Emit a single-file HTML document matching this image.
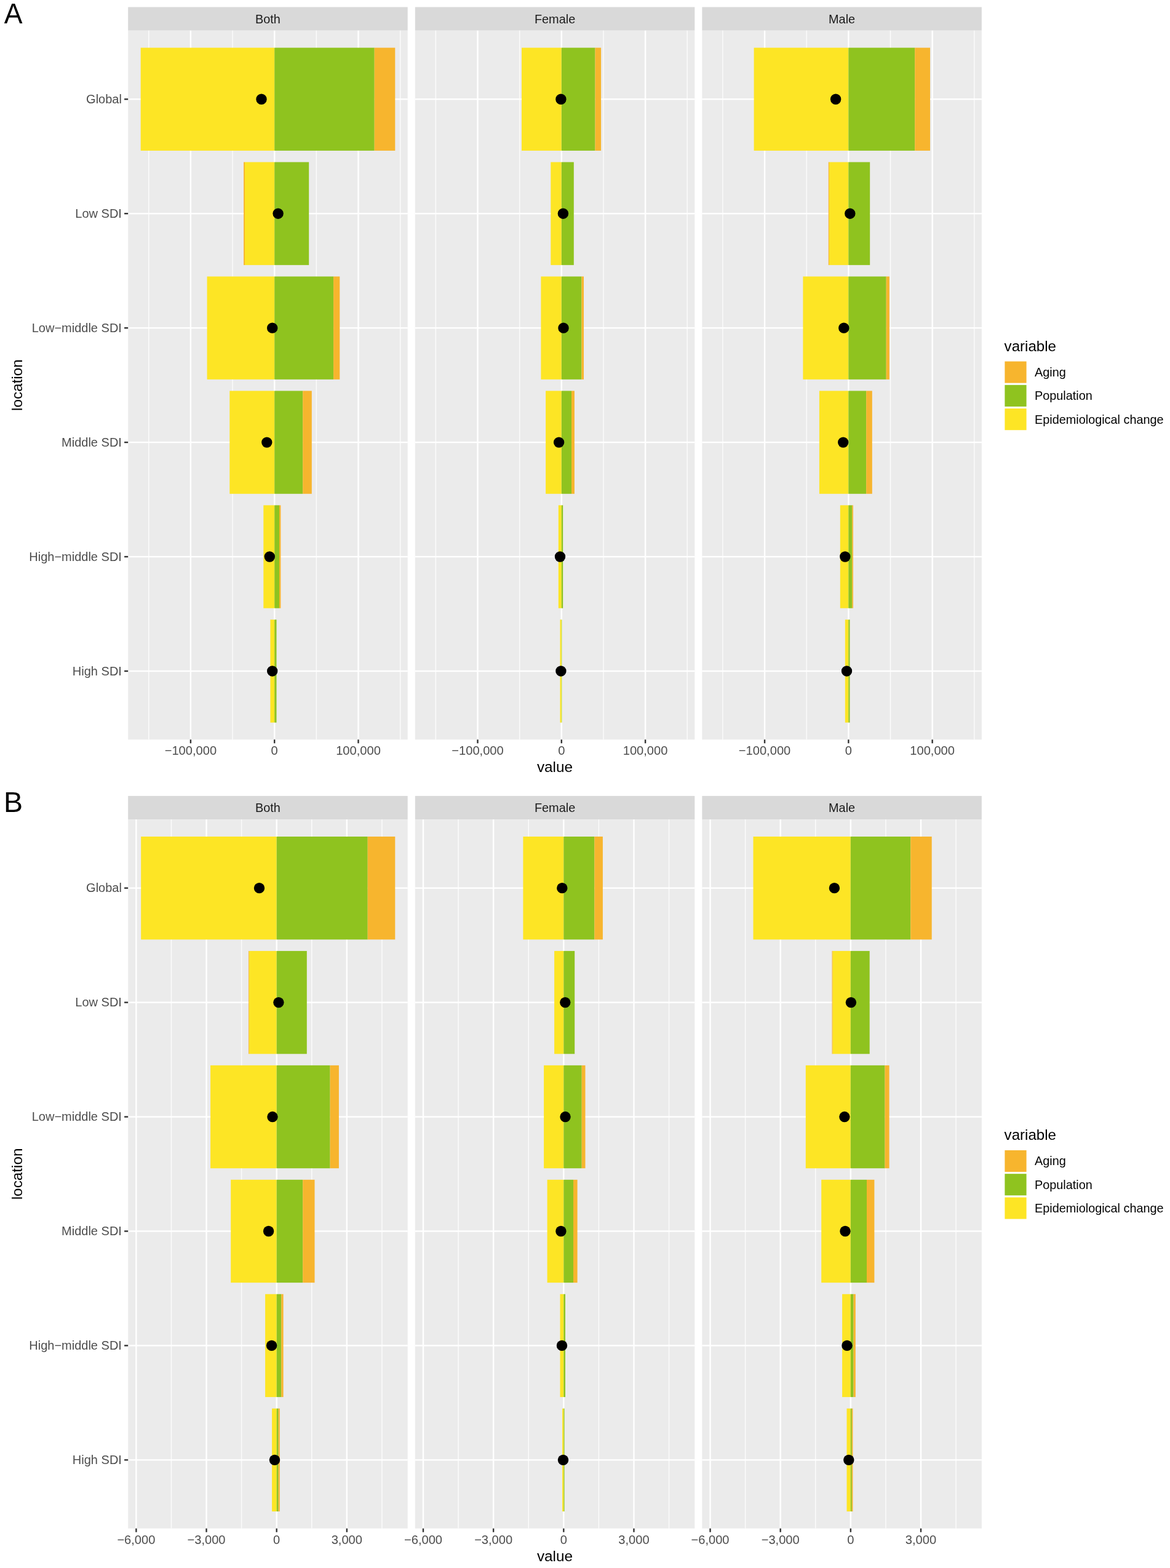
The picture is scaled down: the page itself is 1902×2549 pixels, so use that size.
<!DOCTYPE html>
<html><head><meta charset="utf-8"><title>Decomposition analysis</title>
<style>html,body{margin:0;padding:0;background:#fff;}body{width:1902px;height:2549px;overflow:hidden;}svg{display:block;}text{font-family:'Liberation Sans', Arial, Helvetica, sans-serif;}</style>
</head><body>
<svg width="1902" height="2549" viewBox="0 0 1902 2549">
<rect x="0" y="0" width="1902" height="2549" fill="#fff"/>
<g id="plotA">
<text transform="translate(6.8 37.9) scale(0.96 1)" font-size="46.5" fill="#000">A</text>
<rect x="208.2" y="11.5" width="454.5" height="38.2" fill="#D9D9D9"/>
<text x="435.45" y="37.5" font-size="19.9" fill="#1A1A1A" text-anchor="middle">Both</text>
<rect x="208.2" y="49.7" width="454.5" height="1152.6" fill="#EBEBEB"/>
<rect x="241.05" y="49.7" width="1.4" height="1152.6" fill="#FCFCFC"/>
<rect x="377.35" y="49.7" width="1.4" height="1152.6" fill="#FCFCFC"/>
<rect x="513.65" y="49.7" width="1.4" height="1152.6" fill="#FCFCFC"/>
<rect x="649.95" y="49.7" width="1.4" height="1152.6" fill="#FCFCFC"/>
<rect x="308.7" y="49.7" width="2.4" height="1152.6" fill="#fff"/>
<rect x="445" y="49.7" width="2.4" height="1152.6" fill="#fff"/>
<rect x="581.3" y="49.7" width="2.4" height="1152.6" fill="#fff"/>
<rect x="208.2" y="160.06" width="454.5" height="2.4" fill="#fff"/>
<rect x="208.2" y="346" width="454.5" height="2.4" fill="#fff"/>
<rect x="208.2" y="531.94" width="454.5" height="2.4" fill="#fff"/>
<rect x="208.2" y="717.88" width="454.5" height="2.4" fill="#fff"/>
<rect x="208.2" y="903.82" width="454.5" height="2.4" fill="#fff"/>
<rect x="208.2" y="1089.76" width="454.5" height="2.4" fill="#fff"/>
<rect x="228.7" y="77.59" width="217.5" height="167.35" fill="#FDE525"/>
<rect x="446.2" y="77.59" width="162.5" height="167.35" fill="#8FC31F"/>
<rect x="608.7" y="77.59" width="33.6" height="167.35" fill="#F7B52E"/>
<rect x="396.1" y="263.53" width="1.9" height="167.35" fill="#F7B52E"/>
<rect x="398" y="263.53" width="48.2" height="167.35" fill="#FDE525"/>
<rect x="446.2" y="263.53" width="56" height="167.35" fill="#8FC31F"/>
<rect x="336.6" y="449.47" width="109.6" height="167.35" fill="#FDE525"/>
<rect x="446.2" y="449.47" width="95.9" height="167.35" fill="#8FC31F"/>
<rect x="542.1" y="449.47" width="10.2" height="167.35" fill="#F7B52E"/>
<rect x="373.3" y="635.41" width="72.9" height="167.35" fill="#FDE525"/>
<rect x="446.2" y="635.41" width="46" height="167.35" fill="#8FC31F"/>
<rect x="492.2" y="635.41" width="14.6" height="167.35" fill="#F7B52E"/>
<rect x="428.3" y="821.35" width="17.9" height="167.35" fill="#FDE525"/>
<rect x="446.2" y="821.35" width="7.8" height="167.35" fill="#8FC31F"/>
<rect x="454" y="821.35" width="2.4" height="167.35" fill="#F7B52E"/>
<rect x="439.4" y="1007.29" width="6.8" height="167.35" fill="#FDE525"/>
<rect x="446.2" y="1007.29" width="3.3" height="167.35" fill="#8FC31F"/>
<circle cx="425" cy="161.26" r="8.7" fill="#000"/>
<circle cx="452.1" cy="347.2" r="8.7" fill="#000"/>
<circle cx="442.7" cy="533.14" r="8.7" fill="#000"/>
<circle cx="433.8" cy="719.08" r="8.7" fill="#000"/>
<circle cx="438.3" cy="905.02" r="8.7" fill="#000"/>
<circle cx="442.7" cy="1090.96" r="8.7" fill="#000"/>
<rect x="308.7" y="1202.3" width="2.4" height="6" fill="#333"/>
<text x="309.9" y="1227.4" font-size="20.1" fill="#4D4D4D" text-anchor="middle">−100,000</text>
<rect x="445" y="1202.3" width="2.4" height="6" fill="#333"/>
<text x="446.2" y="1227.4" font-size="20.1" fill="#4D4D4D" text-anchor="middle">0</text>
<rect x="581.3" y="1202.3" width="2.4" height="6" fill="#333"/>
<text x="582.5" y="1227.4" font-size="20.1" fill="#4D4D4D" text-anchor="middle">100,000</text>
<rect x="674.8" y="11.5" width="454.5" height="38.2" fill="#D9D9D9"/>
<text x="902.05" y="37.5" font-size="19.9" fill="#1A1A1A" text-anchor="middle">Female</text>
<rect x="674.8" y="49.7" width="454.5" height="1152.6" fill="#EBEBEB"/>
<rect x="707.65" y="49.7" width="1.4" height="1152.6" fill="#FCFCFC"/>
<rect x="843.95" y="49.7" width="1.4" height="1152.6" fill="#FCFCFC"/>
<rect x="980.25" y="49.7" width="1.4" height="1152.6" fill="#FCFCFC"/>
<rect x="1116.55" y="49.7" width="1.4" height="1152.6" fill="#FCFCFC"/>
<rect x="775.3" y="49.7" width="2.4" height="1152.6" fill="#fff"/>
<rect x="911.6" y="49.7" width="2.4" height="1152.6" fill="#fff"/>
<rect x="1047.9" y="49.7" width="2.4" height="1152.6" fill="#fff"/>
<rect x="674.8" y="160.06" width="454.5" height="2.4" fill="#fff"/>
<rect x="674.8" y="346" width="454.5" height="2.4" fill="#fff"/>
<rect x="674.8" y="531.94" width="454.5" height="2.4" fill="#fff"/>
<rect x="674.8" y="717.88" width="454.5" height="2.4" fill="#fff"/>
<rect x="674.8" y="903.82" width="454.5" height="2.4" fill="#fff"/>
<rect x="674.8" y="1089.76" width="454.5" height="2.4" fill="#fff"/>
<rect x="848" y="77.59" width="64.8" height="167.35" fill="#FDE525"/>
<rect x="912.8" y="77.59" width="54.7" height="167.35" fill="#8FC31F"/>
<rect x="967.5" y="77.59" width="9.6" height="167.35" fill="#F7B52E"/>
<rect x="895.3" y="263.53" width="17.5" height="167.35" fill="#FDE525"/>
<rect x="912.8" y="263.53" width="20" height="167.35" fill="#8FC31F"/>
<rect x="879.4" y="449.47" width="33.4" height="167.35" fill="#FDE525"/>
<rect x="912.8" y="449.47" width="32.7" height="167.35" fill="#8FC31F"/>
<rect x="945.5" y="449.47" width="3.5" height="167.35" fill="#F7B52E"/>
<rect x="887.1" y="635.41" width="25.7" height="167.35" fill="#FDE525"/>
<rect x="912.8" y="635.41" width="16.2" height="167.35" fill="#8FC31F"/>
<rect x="929" y="635.41" width="4.9" height="167.35" fill="#F7B52E"/>
<rect x="907.8" y="821.35" width="5" height="167.35" fill="#FDE525"/>
<rect x="912.8" y="821.35" width="2.4" height="167.35" fill="#8FC31F"/>
<rect x="910.5" y="1007.29" width="2.3" height="167.35" fill="#FDE525"/>
<rect x="912.8" y="1007.29" width="0.6" height="167.35" fill="#8FC31F"/>
<circle cx="911.9" cy="161.26" r="8.7" fill="#000"/>
<circle cx="915.4" cy="347.2" r="8.7" fill="#000"/>
<circle cx="916" cy="533.14" r="8.7" fill="#000"/>
<circle cx="908.6" cy="719.08" r="8.7" fill="#000"/>
<circle cx="910.5" cy="905.02" r="8.7" fill="#000"/>
<circle cx="911.9" cy="1090.96" r="8.7" fill="#000"/>
<rect x="775.3" y="1202.3" width="2.4" height="6" fill="#333"/>
<text x="776.5" y="1227.4" font-size="20.1" fill="#4D4D4D" text-anchor="middle">−100,000</text>
<rect x="911.6" y="1202.3" width="2.4" height="6" fill="#333"/>
<text x="912.8" y="1227.4" font-size="20.1" fill="#4D4D4D" text-anchor="middle">0</text>
<rect x="1047.9" y="1202.3" width="2.4" height="6" fill="#333"/>
<text x="1049.1" y="1227.4" font-size="20.1" fill="#4D4D4D" text-anchor="middle">100,000</text>
<rect x="1141.35" y="11.5" width="454.5" height="38.2" fill="#D9D9D9"/>
<text x="1368.6" y="37.5" font-size="19.9" fill="#1A1A1A" text-anchor="middle">Male</text>
<rect x="1141.35" y="49.7" width="454.5" height="1152.6" fill="#EBEBEB"/>
<rect x="1174.2" y="49.7" width="1.4" height="1152.6" fill="#FCFCFC"/>
<rect x="1310.5" y="49.7" width="1.4" height="1152.6" fill="#FCFCFC"/>
<rect x="1446.8" y="49.7" width="1.4" height="1152.6" fill="#FCFCFC"/>
<rect x="1583.1" y="49.7" width="1.4" height="1152.6" fill="#FCFCFC"/>
<rect x="1241.85" y="49.7" width="2.4" height="1152.6" fill="#fff"/>
<rect x="1378.15" y="49.7" width="2.4" height="1152.6" fill="#fff"/>
<rect x="1514.45" y="49.7" width="2.4" height="1152.6" fill="#fff"/>
<rect x="1141.35" y="160.06" width="454.5" height="2.4" fill="#fff"/>
<rect x="1141.35" y="346" width="454.5" height="2.4" fill="#fff"/>
<rect x="1141.35" y="531.94" width="454.5" height="2.4" fill="#fff"/>
<rect x="1141.35" y="717.88" width="454.5" height="2.4" fill="#fff"/>
<rect x="1141.35" y="903.82" width="454.5" height="2.4" fill="#fff"/>
<rect x="1141.35" y="1089.76" width="454.5" height="2.4" fill="#fff"/>
<rect x="1225.6" y="77.59" width="153.7" height="167.35" fill="#FDE525"/>
<rect x="1379.3" y="77.59" width="107.9" height="167.35" fill="#8FC31F"/>
<rect x="1487.2" y="77.59" width="24.8" height="167.35" fill="#F7B52E"/>
<rect x="1346.8" y="263.53" width="1.3" height="167.35" fill="#F7B52E"/>
<rect x="1348.1" y="263.53" width="31.2" height="167.35" fill="#FDE525"/>
<rect x="1379.3" y="263.53" width="34.9" height="167.35" fill="#8FC31F"/>
<rect x="1305.4" y="449.47" width="73.9" height="167.35" fill="#FDE525"/>
<rect x="1379.3" y="449.47" width="61.4" height="167.35" fill="#8FC31F"/>
<rect x="1440.7" y="449.47" width="5.2" height="167.35" fill="#F7B52E"/>
<rect x="1331.9" y="635.41" width="47.4" height="167.35" fill="#FDE525"/>
<rect x="1379.3" y="635.41" width="28.9" height="167.35" fill="#8FC31F"/>
<rect x="1408.2" y="635.41" width="9.6" height="167.35" fill="#F7B52E"/>
<rect x="1365.8" y="821.35" width="13.5" height="167.35" fill="#FDE525"/>
<rect x="1379.3" y="821.35" width="6" height="167.35" fill="#8FC31F"/>
<rect x="1385.3" y="821.35" width="1.7" height="167.35" fill="#F7B52E"/>
<rect x="1373.8" y="1007.29" width="5.5" height="167.35" fill="#FDE525"/>
<rect x="1379.3" y="1007.29" width="2.2" height="167.35" fill="#8FC31F"/>
<circle cx="1358.6" cy="161.26" r="8.7" fill="#000"/>
<circle cx="1381.8" cy="347.2" r="8.7" fill="#000"/>
<circle cx="1371.8" cy="533.14" r="8.7" fill="#000"/>
<circle cx="1370.7" cy="719.08" r="8.7" fill="#000"/>
<circle cx="1373.8" cy="905.02" r="8.7" fill="#000"/>
<circle cx="1376.5" cy="1090.96" r="8.7" fill="#000"/>
<rect x="1241.85" y="1202.3" width="2.4" height="6" fill="#333"/>
<text x="1243.05" y="1227.4" font-size="20.1" fill="#4D4D4D" text-anchor="middle">−100,000</text>
<rect x="1378.15" y="1202.3" width="2.4" height="6" fill="#333"/>
<text x="1379.35" y="1227.4" font-size="20.1" fill="#4D4D4D" text-anchor="middle">0</text>
<rect x="1514.45" y="1202.3" width="2.4" height="6" fill="#333"/>
<text x="1515.65" y="1227.4" font-size="20.1" fill="#4D4D4D" text-anchor="middle">100,000</text>
<rect x="202.1" y="160.06" width="6.1" height="2.4" fill="#333"/>
<text x="197.9" y="168.06" font-size="20.0" fill="#4D4D4D" text-anchor="end">Global</text>
<rect x="202.1" y="346" width="6.1" height="2.4" fill="#333"/>
<text x="197.9" y="354" font-size="20.0" fill="#4D4D4D" text-anchor="end">Low SDI</text>
<rect x="202.1" y="531.94" width="6.1" height="2.4" fill="#333"/>
<text x="197.9" y="539.94" font-size="20.0" fill="#4D4D4D" text-anchor="end">Low−middle SDI</text>
<rect x="202.1" y="717.88" width="6.1" height="2.4" fill="#333"/>
<text x="197.9" y="725.88" font-size="20.0" fill="#4D4D4D" text-anchor="end">Middle SDI</text>
<rect x="202.1" y="903.82" width="6.1" height="2.4" fill="#333"/>
<text x="197.9" y="911.82" font-size="20.0" fill="#4D4D4D" text-anchor="end">High−middle SDI</text>
<rect x="202.1" y="1089.76" width="6.1" height="2.4" fill="#333"/>
<text x="197.9" y="1097.76" font-size="20.0" fill="#4D4D4D" text-anchor="end">High SDI</text>
<text x="902" y="1255.1" font-size="24.3" fill="#000" text-anchor="middle">value</text>
<text transform="translate(36.0 626) rotate(-90)" font-size="24.3" fill="#000" text-anchor="middle">location</text>
<text x="1632.6" y="570.9" font-size="24.1" fill="#000">variable</text>
<rect x="1633.4" y="587.5" width="35.2" height="35.1" fill="#F7B52E"/>
<text x="1682.0" y="612" font-size="19.85" fill="#000">Aging</text>
<rect x="1633.4" y="625.8" width="35.2" height="35.1" fill="#8FC31F"/>
<text x="1682.0" y="650.3" font-size="19.85" fill="#000">Population</text>
<rect x="1633.4" y="664.1" width="35.2" height="35.1" fill="#FDE525"/>
<text x="1682.0" y="688.6" font-size="19.85" fill="#000">Epidemiological change</text>
</g>
<g id="plotB">
<text transform="translate(6 1319.9) scale(1.0 1)" font-size="46.5" fill="#000">B</text>
<rect x="208.2" y="1293.9" width="454.5" height="38.2" fill="#D9D9D9"/>
<text x="435.45" y="1319.9" font-size="19.9" fill="#1A1A1A" text-anchor="middle">Both</text>
<rect x="208.2" y="1332.1" width="454.5" height="1152.6" fill="#EBEBEB"/>
<rect x="277.78" y="1332.1" width="1.4" height="1152.6" fill="#FCFCFC"/>
<rect x="391.93" y="1332.1" width="1.4" height="1152.6" fill="#FCFCFC"/>
<rect x="506.07" y="1332.1" width="1.4" height="1152.6" fill="#FCFCFC"/>
<rect x="620.22" y="1332.1" width="1.4" height="1152.6" fill="#FCFCFC"/>
<rect x="220.2" y="1332.1" width="2.4" height="1152.6" fill="#fff"/>
<rect x="334.35" y="1332.1" width="2.4" height="1152.6" fill="#fff"/>
<rect x="448.5" y="1332.1" width="2.4" height="1152.6" fill="#fff"/>
<rect x="562.65" y="1332.1" width="2.4" height="1152.6" fill="#fff"/>
<rect x="208.2" y="1442.46" width="454.5" height="2.4" fill="#fff"/>
<rect x="208.2" y="1628.4" width="454.5" height="2.4" fill="#fff"/>
<rect x="208.2" y="1814.34" width="454.5" height="2.4" fill="#fff"/>
<rect x="208.2" y="2000.28" width="454.5" height="2.4" fill="#fff"/>
<rect x="208.2" y="2186.22" width="454.5" height="2.4" fill="#fff"/>
<rect x="208.2" y="2372.16" width="454.5" height="2.4" fill="#fff"/>
<rect x="229.2" y="1359.99" width="220.5" height="167.35" fill="#FDE525"/>
<rect x="449.7" y="1359.99" width="148" height="167.35" fill="#8FC31F"/>
<rect x="597.7" y="1359.99" width="44.6" height="167.35" fill="#F7B52E"/>
<rect x="404.1" y="1545.93" width="1.1" height="167.35" fill="#F7B52E"/>
<rect x="405.2" y="1545.93" width="44.5" height="167.35" fill="#FDE525"/>
<rect x="449.7" y="1545.93" width="49.1" height="167.35" fill="#8FC31F"/>
<rect x="342.1" y="1731.87" width="107.6" height="167.35" fill="#FDE525"/>
<rect x="449.7" y="1731.87" width="86.9" height="167.35" fill="#8FC31F"/>
<rect x="536.6" y="1731.87" width="14.3" height="167.35" fill="#F7B52E"/>
<rect x="375.2" y="1917.81" width="74.5" height="167.35" fill="#FDE525"/>
<rect x="449.7" y="1917.81" width="42.5" height="167.35" fill="#8FC31F"/>
<rect x="492.2" y="1917.81" width="19.3" height="167.35" fill="#F7B52E"/>
<rect x="431.1" y="2103.75" width="18.6" height="167.35" fill="#FDE525"/>
<rect x="449.7" y="2103.75" width="7.6" height="167.35" fill="#8FC31F"/>
<rect x="457.3" y="2103.75" width="3.3" height="167.35" fill="#F7B52E"/>
<rect x="442.1" y="2289.69" width="7.6" height="167.35" fill="#FDE525"/>
<rect x="449.7" y="2289.69" width="2.9" height="167.35" fill="#8FC31F"/>
<rect x="452.6" y="2289.69" width="2.2" height="167.35" fill="#F7B52E"/>
<circle cx="421.5" cy="1443.66" r="8.7" fill="#000"/>
<circle cx="452.9" cy="1629.6" r="8.7" fill="#000"/>
<circle cx="443" cy="1815.54" r="8.7" fill="#000"/>
<circle cx="436.6" cy="2001.48" r="8.7" fill="#000"/>
<circle cx="441.6" cy="2187.42" r="8.7" fill="#000"/>
<circle cx="446.5" cy="2373.36" r="8.7" fill="#000"/>
<rect x="220.2" y="2484.7" width="2.4" height="6" fill="#333"/>
<text x="221.4" y="2509.8" font-size="20.1" fill="#4D4D4D" text-anchor="middle">−6,000</text>
<rect x="334.35" y="2484.7" width="2.4" height="6" fill="#333"/>
<text x="335.55" y="2509.8" font-size="20.1" fill="#4D4D4D" text-anchor="middle">−3,000</text>
<rect x="448.5" y="2484.7" width="2.4" height="6" fill="#333"/>
<text x="449.7" y="2509.8" font-size="20.1" fill="#4D4D4D" text-anchor="middle">0</text>
<rect x="562.65" y="2484.7" width="2.4" height="6" fill="#333"/>
<text x="563.85" y="2509.8" font-size="20.1" fill="#4D4D4D" text-anchor="middle">3,000</text>
<rect x="674.8" y="1293.9" width="454.5" height="38.2" fill="#D9D9D9"/>
<text x="902.05" y="1319.9" font-size="19.9" fill="#1A1A1A" text-anchor="middle">Female</text>
<rect x="674.8" y="1332.1" width="454.5" height="1152.6" fill="#EBEBEB"/>
<rect x="744.37" y="1332.1" width="1.4" height="1152.6" fill="#FCFCFC"/>
<rect x="858.52" y="1332.1" width="1.4" height="1152.6" fill="#FCFCFC"/>
<rect x="972.67" y="1332.1" width="1.4" height="1152.6" fill="#FCFCFC"/>
<rect x="1086.82" y="1332.1" width="1.4" height="1152.6" fill="#FCFCFC"/>
<rect x="686.8" y="1332.1" width="2.4" height="1152.6" fill="#fff"/>
<rect x="800.95" y="1332.1" width="2.4" height="1152.6" fill="#fff"/>
<rect x="915.1" y="1332.1" width="2.4" height="1152.6" fill="#fff"/>
<rect x="1029.25" y="1332.1" width="2.4" height="1152.6" fill="#fff"/>
<rect x="674.8" y="1442.46" width="454.5" height="2.4" fill="#fff"/>
<rect x="674.8" y="1628.4" width="454.5" height="2.4" fill="#fff"/>
<rect x="674.8" y="1814.34" width="454.5" height="2.4" fill="#fff"/>
<rect x="674.8" y="2000.28" width="454.5" height="2.4" fill="#fff"/>
<rect x="674.8" y="2186.22" width="454.5" height="2.4" fill="#fff"/>
<rect x="674.8" y="2372.16" width="454.5" height="2.4" fill="#fff"/>
<rect x="850.4" y="1359.99" width="65.9" height="167.35" fill="#FDE525"/>
<rect x="916.3" y="1359.99" width="50.1" height="167.35" fill="#8FC31F"/>
<rect x="966.4" y="1359.99" width="13.5" height="167.35" fill="#F7B52E"/>
<rect x="901.1" y="1545.93" width="15.2" height="167.35" fill="#FDE525"/>
<rect x="916.3" y="1545.93" width="17.9" height="167.35" fill="#8FC31F"/>
<rect x="884.1" y="1731.87" width="32.2" height="167.35" fill="#FDE525"/>
<rect x="916.3" y="1731.87" width="29.4" height="167.35" fill="#8FC31F"/>
<rect x="945.7" y="1731.87" width="5.8" height="167.35" fill="#F7B52E"/>
<rect x="889.6" y="1917.81" width="26.7" height="167.35" fill="#FDE525"/>
<rect x="916.3" y="1917.81" width="15.7" height="167.35" fill="#8FC31F"/>
<rect x="932" y="1917.81" width="6.6" height="167.35" fill="#F7B52E"/>
<rect x="910.5" y="2103.75" width="5.8" height="167.35" fill="#FDE525"/>
<rect x="916.3" y="2103.75" width="2.7" height="167.35" fill="#8FC31F"/>
<rect x="914.1" y="2289.69" width="2.2" height="167.35" fill="#FDE525"/>
<rect x="916.3" y="2289.69" width="1.3" height="167.35" fill="#8FC31F"/>
<circle cx="913.8" cy="1443.66" r="8.7" fill="#000"/>
<circle cx="918.8" cy="1629.6" r="8.7" fill="#000"/>
<circle cx="919" cy="1815.54" r="8.7" fill="#000"/>
<circle cx="911.9" cy="2001.48" r="8.7" fill="#000"/>
<circle cx="913.5" cy="2187.42" r="8.7" fill="#000"/>
<circle cx="915.5" cy="2373.36" r="8.7" fill="#000"/>
<rect x="686.8" y="2484.7" width="2.4" height="6" fill="#333"/>
<text x="688" y="2509.8" font-size="20.1" fill="#4D4D4D" text-anchor="middle">−6,000</text>
<rect x="800.95" y="2484.7" width="2.4" height="6" fill="#333"/>
<text x="802.15" y="2509.8" font-size="20.1" fill="#4D4D4D" text-anchor="middle">−3,000</text>
<rect x="915.1" y="2484.7" width="2.4" height="6" fill="#333"/>
<text x="916.3" y="2509.8" font-size="20.1" fill="#4D4D4D" text-anchor="middle">0</text>
<rect x="1029.25" y="2484.7" width="2.4" height="6" fill="#333"/>
<text x="1030.45" y="2509.8" font-size="20.1" fill="#4D4D4D" text-anchor="middle">3,000</text>
<rect x="1141.35" y="1293.9" width="454.5" height="38.2" fill="#D9D9D9"/>
<text x="1368.6" y="1319.9" font-size="19.9" fill="#1A1A1A" text-anchor="middle">Male</text>
<rect x="1141.35" y="1332.1" width="454.5" height="1152.6" fill="#EBEBEB"/>
<rect x="1210.92" y="1332.1" width="1.4" height="1152.6" fill="#FCFCFC"/>
<rect x="1325.07" y="1332.1" width="1.4" height="1152.6" fill="#FCFCFC"/>
<rect x="1439.22" y="1332.1" width="1.4" height="1152.6" fill="#FCFCFC"/>
<rect x="1553.37" y="1332.1" width="1.4" height="1152.6" fill="#FCFCFC"/>
<rect x="1153.35" y="1332.1" width="2.4" height="1152.6" fill="#fff"/>
<rect x="1267.5" y="1332.1" width="2.4" height="1152.6" fill="#fff"/>
<rect x="1381.65" y="1332.1" width="2.4" height="1152.6" fill="#fff"/>
<rect x="1495.8" y="1332.1" width="2.4" height="1152.6" fill="#fff"/>
<rect x="1141.35" y="1442.46" width="454.5" height="2.4" fill="#fff"/>
<rect x="1141.35" y="1628.4" width="454.5" height="2.4" fill="#fff"/>
<rect x="1141.35" y="1814.34" width="454.5" height="2.4" fill="#fff"/>
<rect x="1141.35" y="2000.28" width="454.5" height="2.4" fill="#fff"/>
<rect x="1141.35" y="2186.22" width="454.5" height="2.4" fill="#fff"/>
<rect x="1141.35" y="2372.16" width="454.5" height="2.4" fill="#fff"/>
<rect x="1224.5" y="1359.99" width="158.3" height="167.35" fill="#FDE525"/>
<rect x="1382.8" y="1359.99" width="97.5" height="167.35" fill="#8FC31F"/>
<rect x="1480.3" y="1359.99" width="34.4" height="167.35" fill="#F7B52E"/>
<rect x="1352.5" y="1545.93" width="1.2" height="167.35" fill="#F7B52E"/>
<rect x="1353.7" y="1545.93" width="29.1" height="167.35" fill="#FDE525"/>
<rect x="1382.8" y="1545.93" width="30.9" height="167.35" fill="#8FC31F"/>
<rect x="1309.8" y="1731.87" width="73" height="167.35" fill="#FDE525"/>
<rect x="1382.8" y="1731.87" width="55.7" height="167.35" fill="#8FC31F"/>
<rect x="1438.5" y="1731.87" width="7.1" height="167.35" fill="#F7B52E"/>
<rect x="1335.2" y="1917.81" width="47.6" height="167.35" fill="#FDE525"/>
<rect x="1382.8" y="1917.81" width="26.2" height="167.35" fill="#8FC31F"/>
<rect x="1409" y="1917.81" width="12.4" height="167.35" fill="#F7B52E"/>
<rect x="1369.1" y="2103.75" width="13.7" height="167.35" fill="#FDE525"/>
<rect x="1382.8" y="2103.75" width="4.7" height="167.35" fill="#8FC31F"/>
<rect x="1387.5" y="2103.75" width="3.3" height="167.35" fill="#F7B52E"/>
<rect x="1376.5" y="2289.69" width="6.3" height="167.35" fill="#FDE525"/>
<rect x="1382.8" y="2289.69" width="2" height="167.35" fill="#8FC31F"/>
<rect x="1384.8" y="2289.69" width="1.6" height="167.35" fill="#F7B52E"/>
<circle cx="1356.4" cy="1443.66" r="8.7" fill="#000"/>
<circle cx="1383.4" cy="1629.6" r="8.7" fill="#000"/>
<circle cx="1372.9" cy="1815.54" r="8.7" fill="#000"/>
<circle cx="1374" cy="2001.48" r="8.7" fill="#000"/>
<circle cx="1377" cy="2187.42" r="8.7" fill="#000"/>
<circle cx="1379.8" cy="2373.36" r="8.7" fill="#000"/>
<rect x="1153.35" y="2484.7" width="2.4" height="6" fill="#333"/>
<text x="1154.55" y="2509.8" font-size="20.1" fill="#4D4D4D" text-anchor="middle">−6,000</text>
<rect x="1267.5" y="2484.7" width="2.4" height="6" fill="#333"/>
<text x="1268.7" y="2509.8" font-size="20.1" fill="#4D4D4D" text-anchor="middle">−3,000</text>
<rect x="1381.65" y="2484.7" width="2.4" height="6" fill="#333"/>
<text x="1382.85" y="2509.8" font-size="20.1" fill="#4D4D4D" text-anchor="middle">0</text>
<rect x="1495.8" y="2484.7" width="2.4" height="6" fill="#333"/>
<text x="1497" y="2509.8" font-size="20.1" fill="#4D4D4D" text-anchor="middle">3,000</text>
<rect x="202.1" y="1442.46" width="6.1" height="2.4" fill="#333"/>
<text x="197.9" y="1450.46" font-size="20.0" fill="#4D4D4D" text-anchor="end">Global</text>
<rect x="202.1" y="1628.4" width="6.1" height="2.4" fill="#333"/>
<text x="197.9" y="1636.4" font-size="20.0" fill="#4D4D4D" text-anchor="end">Low SDI</text>
<rect x="202.1" y="1814.34" width="6.1" height="2.4" fill="#333"/>
<text x="197.9" y="1822.34" font-size="20.0" fill="#4D4D4D" text-anchor="end">Low−middle SDI</text>
<rect x="202.1" y="2000.28" width="6.1" height="2.4" fill="#333"/>
<text x="197.9" y="2008.28" font-size="20.0" fill="#4D4D4D" text-anchor="end">Middle SDI</text>
<rect x="202.1" y="2186.22" width="6.1" height="2.4" fill="#333"/>
<text x="197.9" y="2194.22" font-size="20.0" fill="#4D4D4D" text-anchor="end">High−middle SDI</text>
<rect x="202.1" y="2372.16" width="6.1" height="2.4" fill="#333"/>
<text x="197.9" y="2380.16" font-size="20.0" fill="#4D4D4D" text-anchor="end">High SDI</text>
<text x="902" y="2537.5" font-size="24.3" fill="#000" text-anchor="middle">value</text>
<text transform="translate(36.0 1908.4) rotate(-90)" font-size="24.3" fill="#000" text-anchor="middle">location</text>
<text x="1632.6" y="1853.3" font-size="24.1" fill="#000">variable</text>
<rect x="1633.4" y="1869.9" width="35.2" height="35.1" fill="#F7B52E"/>
<text x="1682.0" y="1894.4" font-size="19.85" fill="#000">Aging</text>
<rect x="1633.4" y="1908.2" width="35.2" height="35.1" fill="#8FC31F"/>
<text x="1682.0" y="1932.7" font-size="19.85" fill="#000">Population</text>
<rect x="1633.4" y="1946.5" width="35.2" height="35.1" fill="#FDE525"/>
<text x="1682.0" y="1971" font-size="19.85" fill="#000">Epidemiological change</text>
</g>
</svg>
</body></html>
